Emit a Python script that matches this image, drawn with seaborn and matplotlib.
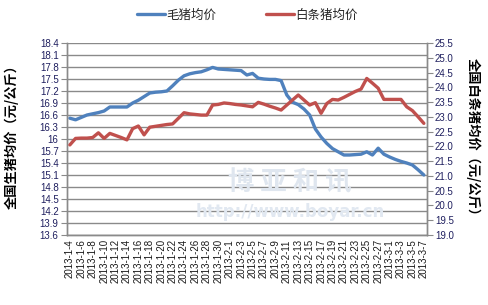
import numpy as np
import pandas as pd
import matplotlib
matplotlib.use("Agg")
import matplotlib.pyplot as plt
import seaborn as sns
from matplotlib.lines import Line2D

# ---------------- data ----------------
dates = pd.date_range("2013-01-04", "2013-03-07", freq="D")
date_labels = [f"{d.year}-{d.month}-{d.day}" for d in dates]

live_hog = [16.52, 16.48, 16.54, 16.60, 16.63, 16.66, 16.70, 16.80, 16.80, 16.80,
            16.80, 16.90, 16.97, 17.06, 17.15, 17.17, 17.18, 17.20, 17.33, 17.47,
            17.58, 17.63, 17.66, 17.68, 17.73, 17.79, 17.75, 17.74, 17.73, 17.72,
            17.71, 17.60, 17.64, 17.52, 17.50, 17.49, 17.49, 17.46, 17.10, 16.92,
            16.86, 16.75, 16.60, 16.25, 16.05, 15.89, 15.76, 15.68, 15.60, 15.60,
            15.61, 15.62, 15.68, 15.60, 15.77, 15.62, 15.55, 15.49, 15.44, 15.40,
            15.35, 15.23, 15.10]

carcass = [22.05, 22.27, 22.28, 22.28, 22.30, 22.46, 22.27, 22.44, 22.37, 22.30,
           22.22, 22.60, 22.69, 22.39, 22.65, 22.68, 22.71, 22.74, 22.76, 22.95,
           23.14, 23.10, 23.08, 23.06, 23.06, 23.40, 23.42, 23.47, 23.45, 23.42,
           23.40, 23.37, 23.34, 23.49, 23.43, 23.36, 23.30, 23.23, 23.40, 23.57,
           23.74, 23.57, 23.40, 23.48, 23.12, 23.45, 23.59, 23.57, 23.66, 23.76,
           23.86, 23.94, 24.30, 24.14, 23.97, 23.59, 23.59, 23.59, 23.59, 23.34,
           23.21, 23.00, 22.78]

left_ticks = [13.6, 13.9, 14.2, 14.5, 14.8, 15.1, 15.4, 15.7, 16.0, 16.3,
              16.6, 16.9, 17.2, 17.5, 17.8, 18.1, 18.4]
right_ticks = [19.0, 19.5, 20.0, 20.5, 21.0, 21.5, 22.0, 22.5, 23.0, 23.5,
               24.0, 24.5, 25.0, 25.5]

series_names = ["毛猪均价", "白条猪均价"]
colors = ["#4F81BD", "#C0504D"]

df = pd.DataFrame({"idx": np.arange(len(date_labels)),
                   "live": live_hog, "carcass": carcass})

# ---------------- plot ----------------
sns.set_style("white")
cjk = ["Noto Sans CJK SC", "DejaVu Sans"]
num_font = "Liberation Sans"
plt.rcParams["font.family"] = cjk

fig = plt.figure(figsize=(4.89, 3.05), dpi=100)
ax = fig.add_axes([67 / 489, 1 - 235 / 305, 359.7 / 489, 192 / 305])
ax2 = ax.twinx()

sns.lineplot(data=df, x="idx", y="live", ax=ax, color=colors[0], lw=2.4, zorder=5)
sns.lineplot(data=df, x="idx", y="carcass", ax=ax2, color=colors[1], lw=2.4, zorder=5)

n = len(date_labels)
ax.set_xlim(-0.5, n - 0.5)
ax.set_ylim(13.6, 18.4)
ax2.set_ylim(19.0, 25.5)

grid_c = "#8a8a8a"
ax.set_yticks(left_ticks)
ax.set_yticklabels([f"{v:g}" for v in left_ticks], fontsize=7, family=num_font, color="#1f1f5f")
ax2.set_yticks(right_ticks)
ax2.set_yticklabels([f"{v:.1f}" for v in right_ticks], fontsize=7, family=num_font, color="#1f1f5f")
ax.yaxis.grid(True, color=grid_c, lw=1)
ax.set_axisbelow(True)

ax.set_xticks(np.arange(0, n, 2))
ax.set_xticklabels(date_labels[::2], rotation=90, fontsize=7, family=num_font, color="#1a1a1a")
ax.set_xticks(np.arange(-0.5, n, 2), minor=True)
ax.tick_params(axis="x", which="major", length=0, pad=3)
ax.tick_params(axis="x", which="minor", length=4, color=grid_c, direction="out")
ax.tick_params(axis="y", length=4, color=grid_c, direction="out", pad=2)
ax2.tick_params(axis="y", length=4, color=grid_c, direction="out", pad=2)

for a in (ax, ax2):
    a.set_xlabel("")
    a.set_ylabel("")
    a.spines["top"].set_visible(False)
    for s in ("left", "right", "bottom"):
        a.spines[s].set_color(grid_c)
        a.spines[s].set_linewidth(1)

# watermark
ax.text(0.62, 0.27, "博 亚 和 讯", transform=ax.transAxes, ha="center", va="center",
        fontsize=19, fontweight="bold", color="#dfe6ef", family=cjk, zorder=1)
ax.text(0.62, 0.12, "http://www.boyar.cn", transform=ax.transAxes, ha="center", va="center",
        fontsize=12, fontweight="bold", color="#e1e8f1", family="DejaVu Sans", zorder=1)

# axis titles
fig.text(12 / 489, 1 - 134 / 305, "全国生猪均价（元/公斤）", rotation=90, ha="center",
         va="center", fontsize=9.5, fontweight="bold", family=cjk, color="#000000")
fig.text(473 / 489, 1 - 140 / 305, "全国白条猪均价（元/公斤）", rotation=-90, ha="center",
         va="center", fontsize=9.5, fontweight="bold", family=cjk, color="#000000")

handles = [Line2D([0], [0], color=colors[0], lw=2.4),
           Line2D([0], [0], color=colors[1], lw=2.4)]
fig.legend(handles, series_names, loc="center", bbox_to_anchor=(0.506, 0.951), ncol=2,
           frameon=False, fontsize=9, handlelength=2.2, handletextpad=0.1,
           columnspacing=4.0, prop={"family": cjk, "size": 9})

fig.savefig("out.png", dpi=100, facecolor="white")
